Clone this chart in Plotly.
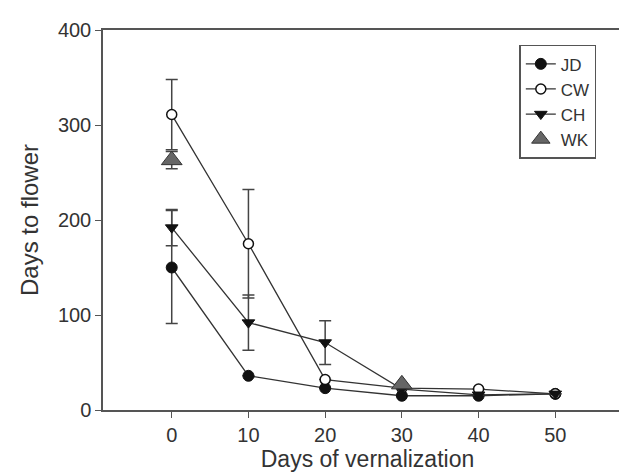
import plotly.graph_objects as go

days = [0, 10, 20, 30, 40, 50]
jd = [150, 36, 23, 15, 15, 17]
jd_err_plus = [60, 0, 0, 0, 0, 0]
jd_err_minus = [59, 0, 0, 0, 0, 0]
cw = [311, 175, 32, 23, 22, 17]
cw_err = [37, 57, 0, 0, 0, 0]
ch = [192, 92, 71, 22, 16, 17]
ch_err = [19, 29, 23, 0, 0, 0]
wk_days = [0, 30]
wk = [263, 27]
wk_err = [9, 0]

ink = "#333333"
fig = go.Figure()

def err(arr, minus=None):
    d = dict(type="data", array=arr, visible=True, color="#444444", thickness=1.5, width=6)
    if minus is not None:
        d["arrayminus"] = minus
        d["symmetric"] = False
    return d

fig.add_trace(go.Scatter(x=days, y=jd, name="JD", mode="lines+markers",
    line=dict(color=ink, width=1.3),
    marker=dict(symbol="circle", size=11, color="#111111", line=dict(color="#111111", width=1)),
    error_y=err(jd_err_plus, jd_err_minus)))
fig.add_trace(go.Scatter(x=days, y=cw, name="CW", mode="lines+markers",
    line=dict(color=ink, width=1.3),
    marker=dict(symbol="circle", size=10, color="white", line=dict(color="#111111", width=1.5)),
    error_y=err(cw_err)))
fig.add_trace(go.Scatter(x=days, y=ch, name="CH", mode="lines+markers",
    line=dict(color=ink, width=1.3),
    marker=dict(symbol="triangle-down", size=11, color="#111111", line=dict(color="#111111", width=1)),
    error_y=err(ch_err)))
fig.add_trace(go.Scatter(x=wk_days, y=wk, name="WK", mode="markers",
    marker=dict(symbol="triangle-up", size=18, color="#666666", line=dict(color="#333333", width=1)),
    error_y=err(wk_err)))

font = "Liberation Sans, Arial, sans-serif"
fig.update_layout(
    width=627, height=473,
    margin=dict(l=95, r=1, t=22, b=71),
    paper_bgcolor="white", plot_bgcolor="white",
    font=dict(family=font, size=20, color=ink),
    showlegend=True,
    legend=dict(x=0.787, y=0.961, xanchor="left", yanchor="top",
                bordercolor="#555555", borderwidth=1.5, bgcolor="white",
                font=dict(size=17, color=ink), tracegroupgap=0, itemwidth=30),
    xaxis=dict(range=[-8.96, 60], tickvals=[0, 10, 20, 30, 40, 50], ticks="outside", ticklen=6,
               tickwidth=1.3, tickcolor="#555555", showline=True, linecolor="#555555", linewidth=1.5,
               mirror=True, showgrid=False, zeroline=False,
               title=dict(text="Days of vernalization", font=dict(size=23), standoff=2),
               tickfont=dict(size=20)),
    yaxis=dict(range=[0, 400], tickvals=[0, 100, 200, 300, 400], ticks="outside", ticklen=6,
               tickwidth=1.3, tickcolor="#555555", showline=True, linecolor="#555555", linewidth=1.5,
               mirror=True, showgrid=False, zeroline=False,
               title=dict(text="Days to flower", font=dict(size=24), standoff=12),
               tickfont=dict(size=20)),
)

fig.write_html("out.html")
